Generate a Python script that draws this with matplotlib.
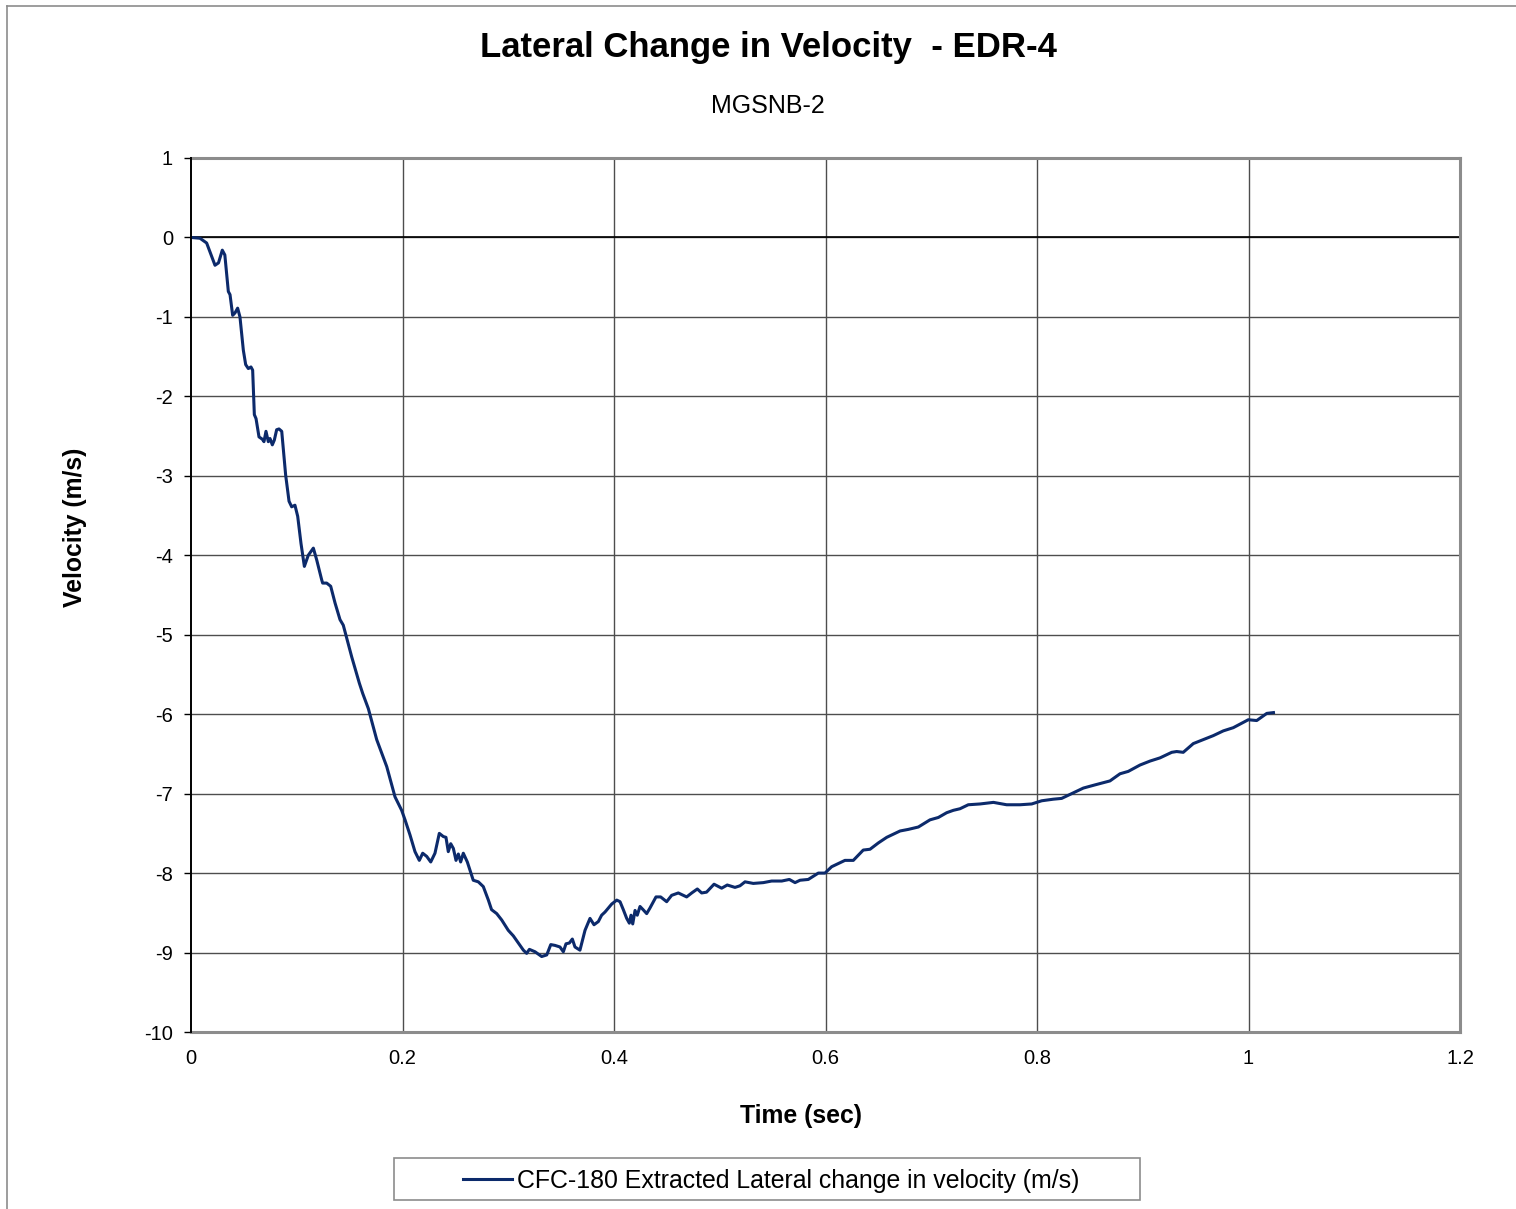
import matplotlib
matplotlib.use("Agg")
import matplotlib.pyplot as plt
from matplotlib.patches import Rectangle
from matplotlib.lines import Line2D

plt.rcParams['font.family'] = ['Liberation Sans', 'DejaVu Sans']

# Time (sec)
time_s = [0.0, 0.0085, 0.0148, 0.0227, 0.026, 0.0296, 0.032, 0.0353, 0.0369, 0.0394,
          0.0416, 0.0441, 0.0463, 0.0495, 0.0517, 0.0542, 0.0567, 0.0583, 0.0599, 0.0615,
          0.0643, 0.0675, 0.069, 0.0709, 0.0731, 0.0747, 0.0769, 0.0788, 0.081, 0.0832,
          0.0858, 0.0895, 0.0927, 0.0952, 0.0983, 0.1009, 0.104, 0.1072, 0.1109, 0.1157,
          0.1189, 0.1236, 0.1245, 0.1283, 0.1321, 0.1362, 0.1409, 0.144, 0.152, 0.1592,
          0.1624, 0.1677, 0.1756, 0.1803, 0.1851, 0.1929, 0.1992, 0.2024, 0.2071, 0.2118,
          0.2159, 0.2191, 0.2229, 0.2267, 0.2307, 0.2348, 0.2386, 0.2411, 0.2433, 0.2456,
          0.2481, 0.2506, 0.2528, 0.255, 0.2575, 0.2613, 0.2669, 0.2717, 0.2764, 0.2812,
          0.2842, 0.2891, 0.2938, 0.3, 0.3048, 0.3095, 0.3143, 0.3174, 0.32, 0.3253,
          0.3316, 0.3364, 0.3402, 0.3442, 0.3489, 0.3521, 0.3546, 0.3578, 0.3606, 0.3631,
          0.3678, 0.3726, 0.3773, 0.3811, 0.3852, 0.3883, 0.3915, 0.3946, 0.3978, 0.4026,
          0.4057, 0.4088, 0.412, 0.4145, 0.4161, 0.4177, 0.4199, 0.422, 0.4246, 0.4275,
          0.4309, 0.434, 0.4397, 0.4441, 0.4498, 0.4545, 0.4608, 0.4687, 0.4735, 0.4788,
          0.4829, 0.4875, 0.4946, 0.5018, 0.5071, 0.5144, 0.5191, 0.5239, 0.5317, 0.5412,
          0.5491, 0.5586, 0.5658, 0.5712, 0.5759, 0.5837, 0.5885, 0.5932, 0.5995, 0.6058,
          0.6184, 0.6263, 0.6357, 0.6421, 0.65, 0.6579, 0.6705, 0.6783, 0.6878, 0.6988,
          0.7067, 0.7146, 0.7209, 0.7272, 0.735, 0.7461, 0.7588, 0.7713, 0.7839, 0.795,
          0.8044, 0.8154, 0.8233, 0.8343, 0.8438, 0.8548, 0.869, 0.8785, 0.8863, 0.8974,
          0.9069, 0.9163, 0.9274, 0.9321, 0.9383, 0.9478, 0.9573, 0.9667, 0.9762, 0.9856,
          0.9998, 1.0078, 1.0173, 1.0236]

# Lateral change in velocity (m/s)
velocity = [0.0, -0.01, -0.07, -0.35, -0.32, -0.16, -0.22, -0.68, -0.72, -0.98,
            -0.95, -0.89, -1.0, -1.42, -1.6, -1.65, -1.63, -1.67, -2.23, -2.28,
            -2.51, -2.54, -2.57, -2.44, -2.57, -2.53, -2.61, -2.55, -2.42, -2.41,
            -2.44, -2.99, -3.32, -3.39, -3.37, -3.51, -3.85, -4.14, -4.0, -3.91,
            -4.06, -4.31, -4.35, -4.35, -4.39, -4.6, -4.81, -4.88, -5.28, -5.61,
            -5.74, -5.93, -6.32, -6.49, -6.66, -7.04, -7.21, -7.33, -7.52, -7.73,
            -7.84, -7.75, -7.79, -7.86, -7.75, -7.5, -7.54, -7.55, -7.73, -7.63,
            -7.69, -7.84, -7.76, -7.86, -7.75, -7.86, -8.09, -8.11, -8.17, -8.34,
            -8.46, -8.51, -8.59, -8.72, -8.79, -8.88, -8.97, -9.01, -8.96, -8.99,
            -9.05, -9.03, -8.9, -8.91, -8.93, -8.99, -8.89, -8.88, -8.83, -8.93,
            -8.97, -8.72, -8.57, -8.65, -8.61, -8.53, -8.49, -8.44, -8.39, -8.34,
            -8.36, -8.46, -8.57, -8.63, -8.53, -8.64, -8.47, -8.53, -8.42, -8.46,
            -8.51, -8.44, -8.3, -8.3, -8.36, -8.28, -8.25, -8.3, -8.25, -8.2,
            -8.25, -8.24, -8.14, -8.19, -8.15, -8.18, -8.16, -8.11, -8.13, -8.12,
            -8.1, -8.1, -8.08, -8.12, -8.09, -8.08, -8.04, -8.0, -8.0, -7.92,
            -7.84, -7.84, -7.71, -7.7, -7.62, -7.55, -7.47, -7.45, -7.42, -7.33,
            -7.3, -7.24, -7.21, -7.19, -7.14, -7.13, -7.11, -7.14, -7.14, -7.13,
            -7.09, -7.07, -7.06, -6.99, -6.93, -6.89, -6.84, -6.75, -6.72, -6.64,
            -6.59, -6.55, -6.48, -6.47, -6.48, -6.37, -6.32, -6.27, -6.21, -6.17,
            -6.07, -6.08, -5.99, -5.98]

x_ticks = [0, 0.2, 0.4, 0.6, 0.8, 1.0, 1.2]
x_tick_labels = ['0', '0.2', '0.4', '0.6', '0.8', '1', '1.2']
y_ticks = [1, 0, -1, -2, -3, -4, -5, -6, -7, -8, -9, -10]
y_tick_labels = ['1', '0', '-1', '-2', '-3', '-4', '-5', '-6', '-7', '-8', '-9', '-10']

title = "Lateral Change in Velocity  - EDR-4"
subtitle = "MGSNB-2"
series_label = "CFC-180 Extracted Lateral change in velocity (m/s)"

W, H = 1516, 1209
fig = plt.figure(figsize=(W / 100, H / 100), dpi=100)
ax = fig.add_axes([191 / W, 1 - 1032 / H, (1460 - 191) / W, (1032 - 158) / H])

# grid
for xv in x_ticks[1:-1]:
    ax.axvline(xv, color='#4d4d4d', lw=1.0, zorder=1)
for yv in y_ticks[1:-1]:
    ax.axhline(yv, color='#4d4d4d', lw=1.0, zorder=1)
ax.axhline(0, color='black', lw=1.2, zorder=2)

line, = ax.plot(time_s, velocity, color='#0c2a6b', lw=2.2, zorder=3)

ax.set_xlim(0, 1.2)
ax.set_ylim(-10, 1)
ax.set_xticks(x_ticks)
ax.set_xticklabels(x_tick_labels)
ax.set_yticks(y_ticks)
ax.set_yticklabels(y_tick_labels)
ax.tick_params(axis='x', length=0, labelsize=14.5, pad=12)
ax.tick_params(axis='y', length=5, direction='out', labelsize=14.5, pad=8, width=1)

for s in ['top', 'right', 'bottom']:
    ax.spines[s].set_color('#8c8c8c')
    ax.spines[s].set_linewidth(2.2)
ax.spines['left'].set_color('black')
ax.spines['left'].set_linewidth(1.4)
ax.spines['left'].set_zorder(4)

fig.text(768 / W, 1 - 47 / H, title, ha='center', va='center',
         fontsize=25, fontweight='bold')
fig.text(768 / W, 1 - 106 / H, subtitle, ha='center', va='center', fontsize=18)
fig.text(75 / W, 1 - 527 / H, "Velocity (m/s)", ha='center', va='center',
         rotation=90, fontsize=17.8, fontweight='bold')
fig.text(801 / W, 1 - 1116 / H, "Time (sec)", ha='center', va='center',
         fontsize=17.8, fontweight='bold')

# legend box
fig.patches.append(Rectangle((394 / W, 1 - 1200 / H), (1140 - 394) / W, 42 / H,
                             transform=fig.transFigure, facecolor='white',
                             edgecolor='#8c8c8c', lw=1.2))
fig.lines.append(Line2D([463 / W, 512 / W], [1 - 1179 / H, 1 - 1179 / H],
                        transform=fig.transFigure, color='#0c2a6b', lw=2.2))
fig.text(517 / W, 1 - 1181 / H, series_label, ha='left', va='center', fontsize=17.9)

# outer frame
fig.lines.append(Line2D([7 / W, 1.0], [1 - 6 / H, 1 - 6 / H],
                        transform=fig.transFigure, color='#8c8c8c', lw=1.2))
fig.lines.append(Line2D([7 / W, 7 / W], [0, 1 - 6 / H],
                        transform=fig.transFigure, color='#8c8c8c', lw=1.2))

fig.savefig('out.png', dpi=100, facecolor='white')
